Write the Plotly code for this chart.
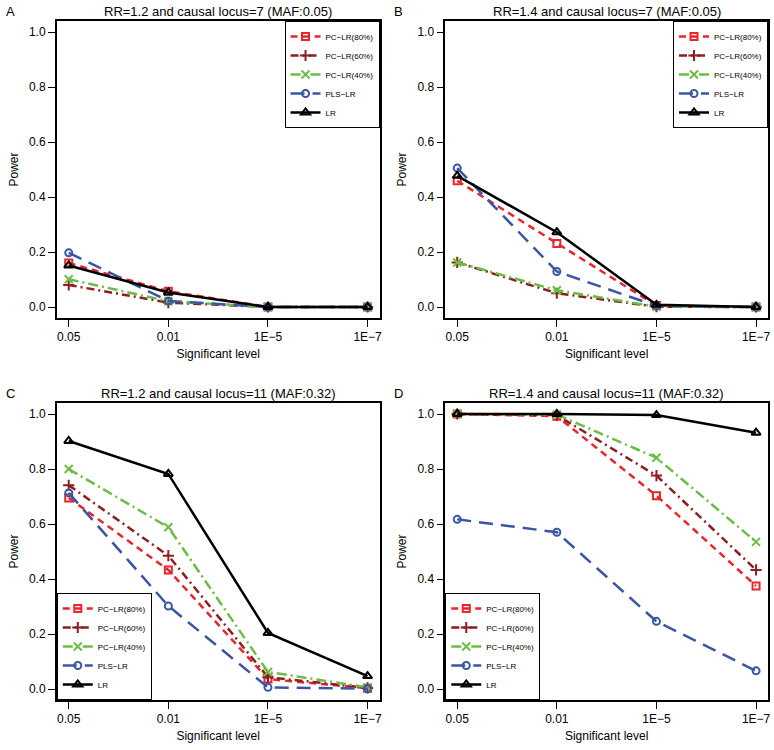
import plotly.graph_objects as go

levels = ["0.05", "0.01", "1E\u22125", "1E\u22127"]
series_names = ["PC\u2212LR(80%)", "PC\u2212LR(60%)", "PC\u2212LR(40%)", "PLS\u2212LR", "LR"]

# Panel A: RR=1.2, locus 7
a_pc80 = [0.160, 0.057, 0.000, 0.000]
a_pc60 = [0.080, 0.016, 0.000, 0.000]
a_pc40 = [0.101, 0.021, 0.000, 0.000]
a_pls = [0.197, 0.022, 0.000, 0.000]
a_lr = [0.151, 0.053, 0.000, 0.000]

# Panel B: RR=1.4, locus 7
b_pc80 = [0.459, 0.231, 0.005, 0.000]
b_pc60 = [0.162, 0.050, 0.001, 0.000]
b_pc40 = [0.162, 0.061, 0.001, 0.000]
b_pls = [0.505, 0.129, 0.004, 0.000]
b_lr = [0.477, 0.272, 0.008, 0.000]

# Panel C: RR=1.2, locus 11
c_pc80 = [0.695, 0.433, 0.036, 0.003]
c_pc60 = [0.741, 0.485, 0.043, 0.004]
c_pc40 = [0.800, 0.588, 0.062, 0.006]
c_pls = [0.713, 0.302, 0.006, 0.001]
c_lr = [0.902, 0.782, 0.204, 0.047]

# Panel D: RR=1.4, locus 11
d_pc80 = [1.000, 0.992, 0.703, 0.375]
d_pc60 = [1.000, 0.996, 0.776, 0.433]
d_pc40 = [1.000, 0.998, 0.841, 0.535]
d_pls = [0.617, 0.570, 0.246, 0.066]
d_lr = [1.000, 1.000, 0.996, 0.932]

panel_titles = [
    "RR=1.2 and causal locus=7 (MAF:0.05)",
    "RR=1.4 and causal locus=7 (MAF:0.05)",
    "RR=1.2 and causal locus=11 (MAF:0.32)",
    "RR=1.4 and causal locus=11 (MAF:0.32)",
]
panel_letters = ["A", "B", "C", "D"]
panels = [
    [a_pc80, a_pc60, a_pc40, a_pls, a_lr],
    [b_pc80, b_pc60, b_pc40, b_pls, b_lr],
    [c_pc80, c_pc60, c_pc40, c_pls, c_lr],
    [d_pc80, d_pc60, d_pc40, d_pls, d_lr],
]

colors = ["#E8262C", "#8E1E20", "#6CBD45", "#3B55A5", "#000000"]
dashes = ["7px,5px", "8px,4px,2px,4px", "10px,4px,2px,4px", "14px,8px", "solid"]
symbols = ["square-open", "cross-thin-open", "x-thin-open", "circle-open", "triangle-up-open"]
msizes = [7, 8, 8, 7, 8]

W, H = 774, 750
FONT = "Liberation Sans, Arial, sans-serif"

# plot-area boxes in pixels (left, right, top, bottom)
boxes = [
    (57, 381, 21, 318),
    (447, 771, 21, 318),
    (57, 381, 403, 700),
    (447, 771, 403, 700),
]

fig = go.Figure()
layout = dict(
    width=W, height=H,
    margin=dict(l=0, r=0, t=0, b=0),
    paper_bgcolor="white", plot_bgcolor="white",
    font=dict(family=FONT, size=12, color="black"),
    annotations=[],
)

for i, (vals, box) in enumerate(zip(panels, boxes)):
    n = i + 1
    xa = "x" if n == 1 else f"x{n}"
    ya = "y" if n == 1 else f"y{n}"
    lg = "legend" if n == 1 else f"legend{n}"
    for k in range(5):
        fig.add_trace(go.Scatter(
            x=levels, y=vals[k], xaxis=xa, yaxis=ya,
            mode="lines+markers", name=series_names[k],
            line=dict(color=colors[k], width=2.5, dash=dashes[k]),
            marker=dict(symbol=symbols[k], size=msizes[k], color=colors[k],
                        line=dict(color=colors[k], width=2)),
            legend=lg, showlegend=True,
        ))
    l, r, t, b = box
    xd = [l / W, r / W]
    yd = [1 - b / H, 1 - t / H]
    axkey = "xaxis" if n == 1 else f"xaxis{n}"
    aykey = "yaxis" if n == 1 else f"yaxis{n}"
    layout[axkey] = dict(
        domain=xd, anchor=ya, type="category", range=[-0.12, 3.12],
        showline=True, mirror=True, linecolor="black", linewidth=1.5,
        ticks="outside", ticklen=7, tickwidth=1.2, tickcolor="black",
        showgrid=False, zeroline=False,
        tickfont=dict(size=12, family=FONT),
        title=dict(text="Significant level", font=dict(size=12, family=FONT), standoff=6),
    )
    layout[aykey] = dict(
        domain=yd, anchor=xa, range=[-0.04, 1.04],
        tickvals=[0, 0.2, 0.4, 0.6, 0.8, 1.0], tickformat=".1f",
        showline=True, mirror=True, linecolor="black", linewidth=1.5,
        ticks="outside", ticklen=7, tickwidth=1.2, tickcolor="black",
        showgrid=False, zeroline=False,
        tickfont=dict(size=12, family=FONT),
        title=dict(text="Power", font=dict(size=12, family=FONT), standoff=8),
    )
    if n <= 2:
        leg = dict(x=r / W, xanchor="right", y=1 - t / H, yanchor="top")
    else:
        leg = dict(x=l / W, xanchor="left", y=1 - b / H, yanchor="bottom")
    leg.update(bgcolor="white", bordercolor="black", borderwidth=1,
               font=dict(size=8, family=FONT), itemwidth=30, tracegroupgap=0)
    layout[lg] = leg
    # titles and panel letters
    layout["annotations"].append(dict(
        text=panel_titles[i], xref="paper", yref="paper",
        x=(l + r) / 2 / W, y=1 - (t - 10) / H, xanchor="center", yanchor="middle",
        showarrow=False, font=dict(size=13, family=FONT)))
    layout["annotations"].append(dict(
        text=panel_letters[i], xref="paper", yref="paper",
        x=(l - 53) / W, y=1 - (t - 10) / H, xanchor="left", yanchor="middle",
        showarrow=False, font=dict(size=13, family=FONT)))

fig.update_layout(**layout)
fig.write_html("out.html", config={"displayModeBar": False},
               post_script="document.body.style.margin='0';document.body.style.padding='0';")
